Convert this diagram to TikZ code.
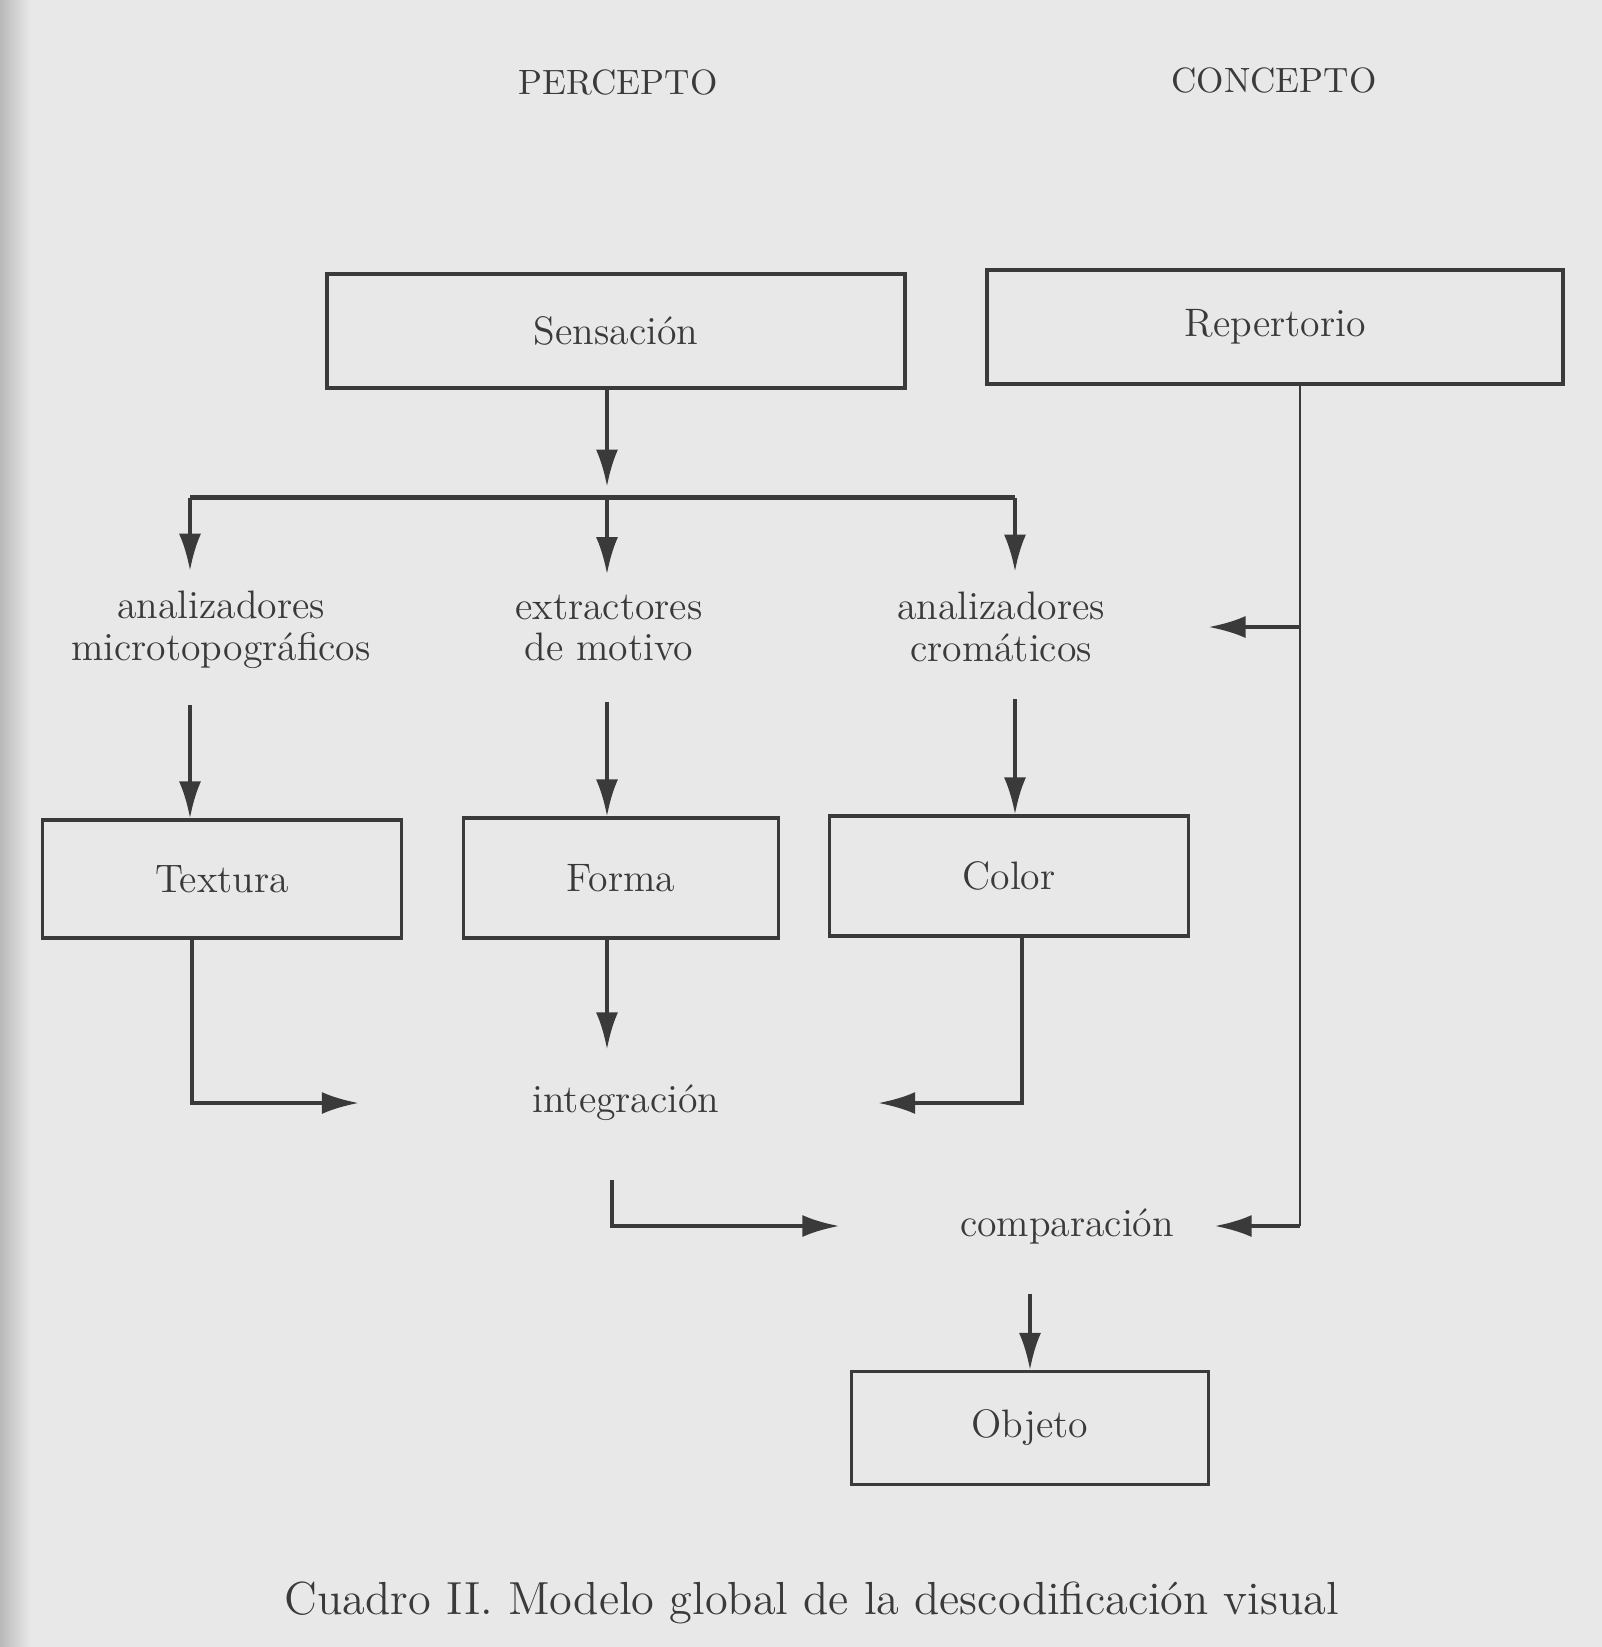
\documentclass[tikz,border=0pt]{standalone}
\usepackage{tikz}
\usetikzlibrary{arrows,arrows.meta,calc}
\definecolor{papel}{HTML}{E8E8E8}
\definecolor{tinta}{HTML}{3A3A3A}
\tikzstyle{caja}=[draw=tinta, line width=0.9pt, text=tinta, text centered,
  minimum height=1.14cm, font=\fontsize{11.3}{11.8}\selectfont]
\tikzstyle{etiqueta}=[text=tinta, align=center, inner sep=0pt,
  font=\fontsize{11.3}{11.8}\selectfont]
\tikzstyle{titulo}=[text=tinta, inner sep=0pt, font=\fontsize{10}{12}\selectfont]
\tikzstyle{line}=[draw, color=tinta, line width=1.1pt,
  -{Latex[length=3.7mm,width=2.2mm]}]
\tikzstyle{barra}=[draw, color=tinta, line width=1.2pt]
\tikzstyle{linefina}=[draw, color=tinta, line width=0.7pt]

\begin{document}
\begin{tikzpicture}

  % Page
  \fill[papel] (0,0) rectangle (16.02,-16.47);
  \shade[left color=gray!55, right color=papel] (0,0) rectangle (0.3,-16.47);

  % Draw diagram elements
  \path (6.16,-3.31) node (sens) [caja, minimum width=5.78cm] {Sensación};
  \path (sens.center)+(6.59,0.04) node (rep) [caja, minimum width=5.76cm] {Repertorio};
  \path (sens.center)+(0.02,2.49) node (perc) [titulo] {PERCEPTO};
  \path (rep.center)+(-0.01,2.47) node (conc) [titulo] {CONCEPTO};

  \path (sens.center)+(-3.95,-2.99) node (amicro) [etiqueta] {analizadores\\microtopográficos};
  \path (sens.center)+(-0.07,-2.97) node (extr) [etiqueta] {extractores\\de motivo};
  \path (sens.center)+(3.85,-2.96) node (acrom) [etiqueta] {analizadores\\cromáticos};

  \path (amicro.center)+(0.01,-2.49) node (tex) [caja, minimum width=3.59cm,
    minimum height=1.18cm] {Textura};
  \path (extr.center)+(0.12,-2.50) node (forma) [caja, minimum width=3.15cm,
    minimum height=1.20cm] {Forma};
  \path (acrom.center)+(0.08,-2.49) node (color) [caja, minimum width=3.59cm,
    minimum height=1.20cm] {Color};

  \path (forma.center)+(0.05,-2.25) node (integ) [etiqueta] {integración};
  \path (integ.center)+(4.41,-1.23) node (comp) [etiqueta] {comparación};
  \path (comp.center)+(-0.37,-2.02) node (obj) [caja, minimum width=3.57cm,
    minimum height=1.13cm] {Objeto};

  \path (obj.center)+(-2.18,-1.75) node (cuadro) [titulo,
    font=\fontsize{13.2}{15}\selectfont] {Cuadro II. Modelo global de la descodificación visual};

  % Branch points
  \path (sens.south)+(-0.09,-1.08) coordinate (bm);
  \path (bm)+(-4.17,0) coordinate (bl);
  \path (bm)+(4.08,0) coordinate (br);
  \path (rep.south)+(0.25,0) coordinate (rl);

  % Draw arrows between elements
  \path [barra] (bl) -- (br);
  \path [line, shorten >=1.1mm] (sens.south -| bm) -- (bm);
  \path [line, shorten >=2mm] (bl) -- (bl |- amicro.north);
  \path [line, shorten >=2mm] (bm) -- (bm |- extr.north);
  \path [line, shorten >=2mm] (br) -- (br |- acrom.north);

  \path [line, shorten <=3.6mm] (amicro.south -| bl) -- (tex.north -| bl);
  \path [line, shorten <=4mm] (extr.south -| bm) -- (forma.north -| bm);
  \path [line, shorten <=3.7mm] (acrom.south -| br) -- (color.north -| br);

  \path [line, shorten >=1.73cm] ([xshift=-3mm]tex.south) |- (integ.west);
  \path [line, shorten >=3.5mm] (forma.south -| bm) -- (integ.north -| bm);
  \path [line, shorten >=1.58cm] ([xshift=1.3mm]color.south) |- (integ.east);
  \path [line, shorten <=5.8mm, shorten >=1.2cm] ([xshift=-1.4mm]integ.south) |- (comp.west);

  \path [linefina] (rl) -- (rl |- comp.east);
  \path [line, shorten >=1.03cm] (rl |- acrom.east) -- (acrom.east);
  \path [line, shorten >=4mm] (rl |- comp.east) -- (comp.east);
  \path [line, shorten <=5mm] (comp.south -| obj.north) -- (obj.north);
\end{tikzpicture}
\end{document}
